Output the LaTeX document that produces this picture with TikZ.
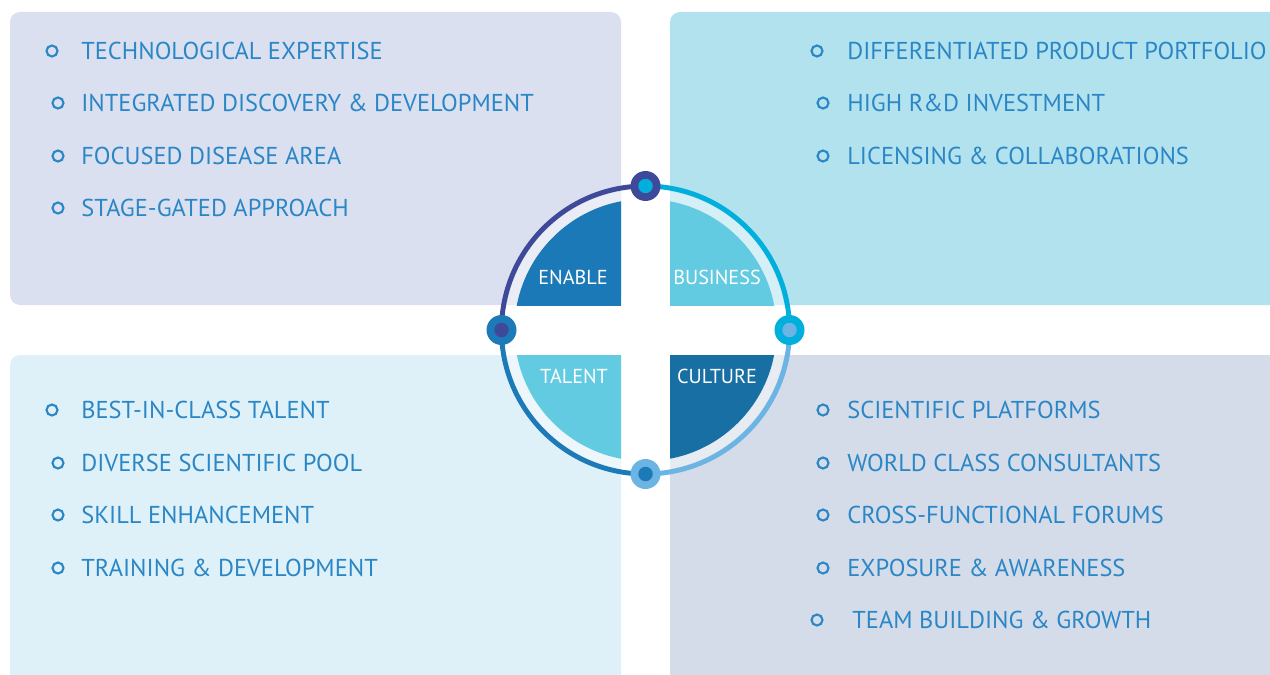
\documentclass[tikz,border=0pt]{standalone}
\usepackage{fontspec}
\setmainfont{PT Sans}

\definecolor{paneltl}{HTML}{DAE0F0}
\definecolor{paneltr}{HTML}{B3E2EF}
\definecolor{panelbl}{HTML}{DFF1F8}
\definecolor{panelbr}{HTML}{D5DCE9}
\definecolor{itemblue}{HTML}{2B86C6}
\definecolor{enablefill}{HTML}{1A79B6}
\definecolor{culturefill}{HTML}{176FA3}
\definecolor{skyfill}{HTML}{63CBE1}
\definecolor{ringindigo}{HTML}{3E4A99}
\definecolor{ringcyan}{HTML}{00AFDC}
\definecolor{ringlight}{HTML}{6CB4E3}
\definecolor{ringblue}{HTML}{1C7AB8}

\begin{document}
\begin{tikzpicture}[x=0.02cm, y=0.02cm,
        panel/.style={rounded corners=2mm},
        item/.style={anchor=west, inner sep=0pt, text=itemblue, font=\fontsize{13.9}{16}\selectfont},
        bullet/.style={draw=itemblue, circle, line width=1.2pt, minimum size=0.22cm, inner sep=0pt},
        quad/.style={text=white, inner sep=0pt, font=\fontsize{11.5}{13}\selectfont},
        ring/.style={line width=2.8pt},
        dot/.style={circle, inner sep=0pt, minimum size=0.6cm},
        pip/.style={circle, inner sep=0pt, minimum size=0.29cm}]
        \useasboundingbox (0,0) rectangle (1270,674);
        \clip (0,0) rectangle (1270,674);

        % four panels
        \fill[paneltl, panel] (10,369) rectangle (621,662);
        \fill[paneltr, panel] (670,369) rectangle (1300,662);
        \fill[panelbl, panel] (10,-20) rectangle (621,319);
        \fill[panelbr, panel] (670,-20) rectangle (1300,319);

        % pale band and quarter fills, cut by the panels
        \begin{scope}
            \clip (10,369) rectangle (621,662);
            \fill[white, opacity=0.45] (645.5,344) circle (141);
            \fill[enablefill] (645.5,344) circle (131);
        \end{scope}
        \begin{scope}
            \clip (670,369) rectangle (1300,662);
            \fill[white, opacity=0.45] (645.5,344) circle (141);
            \fill[skyfill] (645.5,344) circle (131);
        \end{scope}
        \begin{scope}
            \clip (10,-20) rectangle (621,319);
            \fill[white, opacity=0.45] (645.5,344) circle (141);
            \fill[skyfill] (645.5,344) circle (131);
        \end{scope}
        \begin{scope}
            \clip (670,-20) rectangle (1300,319);
            \fill[white, opacity=0.45] (645.5,344) circle (141);
            \fill[culturefill] (645.5,344) circle (131);
        \end{scope}

        \node[quad] (enable) at (573,397) {ENABLE};
        \node[quad] (business) at (717,397) {BUSINESS};
        \node[quad] (talent) at (574,298) {TALENT};
        \node[quad] (culture) at (717,298) {CULTURE};

        % ring
        \coordinate (top) at (645.5,488);
        \coordinate (left) at (501.5,344);
        \coordinate (right) at (789.5,344);
        \coordinate (bottom) at (645.5,200);

        \draw[ring, ringindigo] (left) arc (180:90:144);
        \draw[ring, ringcyan] (top) arc (90:0:144);
        \draw[ring, ringlight] (right) arc (0:-90:144);
        \draw[ring, ringblue] (bottom) arc (270:180:144);

        \node[dot, fill=ringindigo] (topdot) at (top) {};
        \node[pip, fill=ringcyan] at (topdot) {};
        \node[dot, fill=ringblue] (leftdot) at (left) {};
        \node[pip, fill=ringindigo] at (leftdot) {};
        \node[dot, fill=ringcyan] (rightdot) at (right) {};
        \node[pip, fill=ringlight] at (rightdot) {};
        \node[dot, fill=ringlight] (bottomdot) at (bottom) {};
        \node[pip, fill=ringblue] at (bottomdot) {};

        % enable list
        \node[bullet] (b1) at (52,623) {};
        \node[bullet] (b2) at (58,571) {};
        \node[bullet] (b3) at (58,518) {};
        \node[bullet] (b4) at (58,466) {};
        \node[item] (e1) at (81,623) {TECHNOLOGICAL EXPERTISE};
        \node[item] (e2) at (81,571) {INTEGRATED DISCOVERY \& DEVELOPMENT};
        \node[item] (e3) at (81,518) {FOCUSED DISEASE AREA};
        \node[item] (e4) at (81,466) {STAGE-GATED APPROACH};

        % business list
        \node[bullet] (b5) at (817,623) {};
        \node[bullet] (b6) at (823,571) {};
        \node[bullet] (b7) at (823,518) {};
        \node[item] (u1) at (847,623) {DIFFERENTIATED PRODUCT PORTFOLIO};
        \node[item] (u2) at (847,571) {HIGH R\&D INVESTMENT};
        \node[item] (u3) at (847,518) {LICENSING \& COLLABORATIONS};

        % talent list
        \node[bullet] (b8) at (52,264) {};
        \node[bullet] (b9) at (58,211) {};
        \node[bullet] (b10) at (58,159) {};
        \node[bullet] (b11) at (58,106) {};
        \node[item] (t1) at (81,264) {BEST-IN-CLASS TALENT};
        \node[item] (t2) at (81,211) {DIVERSE SCIENTIFIC POOL};
        \node[item] (t3) at (81,159) {SKILL ENHANCEMENT};
        \node[item] (t4) at (81,106) {TRAINING \& DEVELOPMENT};

        % culture list
        \node[bullet] (b12) at (823,264) {};
        \node[bullet] (b13) at (823,211) {};
        \node[bullet] (b14) at (823,159) {};
        \node[bullet] (b15) at (823,106) {};
        \node[bullet] (b16) at (817,54) {};
        \node[item] (c1) at (847,264) {SCIENTIFIC PLATFORMS};
        \node[item] (c2) at (847,211) {WORLD CLASS CONSULTANTS};
        \node[item] (c3) at (847,159) {CROSS-FUNCTIONAL FORUMS};
        \node[item] (c4) at (847,106) {EXPOSURE \& AWARENESS};
        \node[item] (c5) at (852,54) {TEAM BUILDING \& GROWTH};

    \end{tikzpicture}
\end{document}
